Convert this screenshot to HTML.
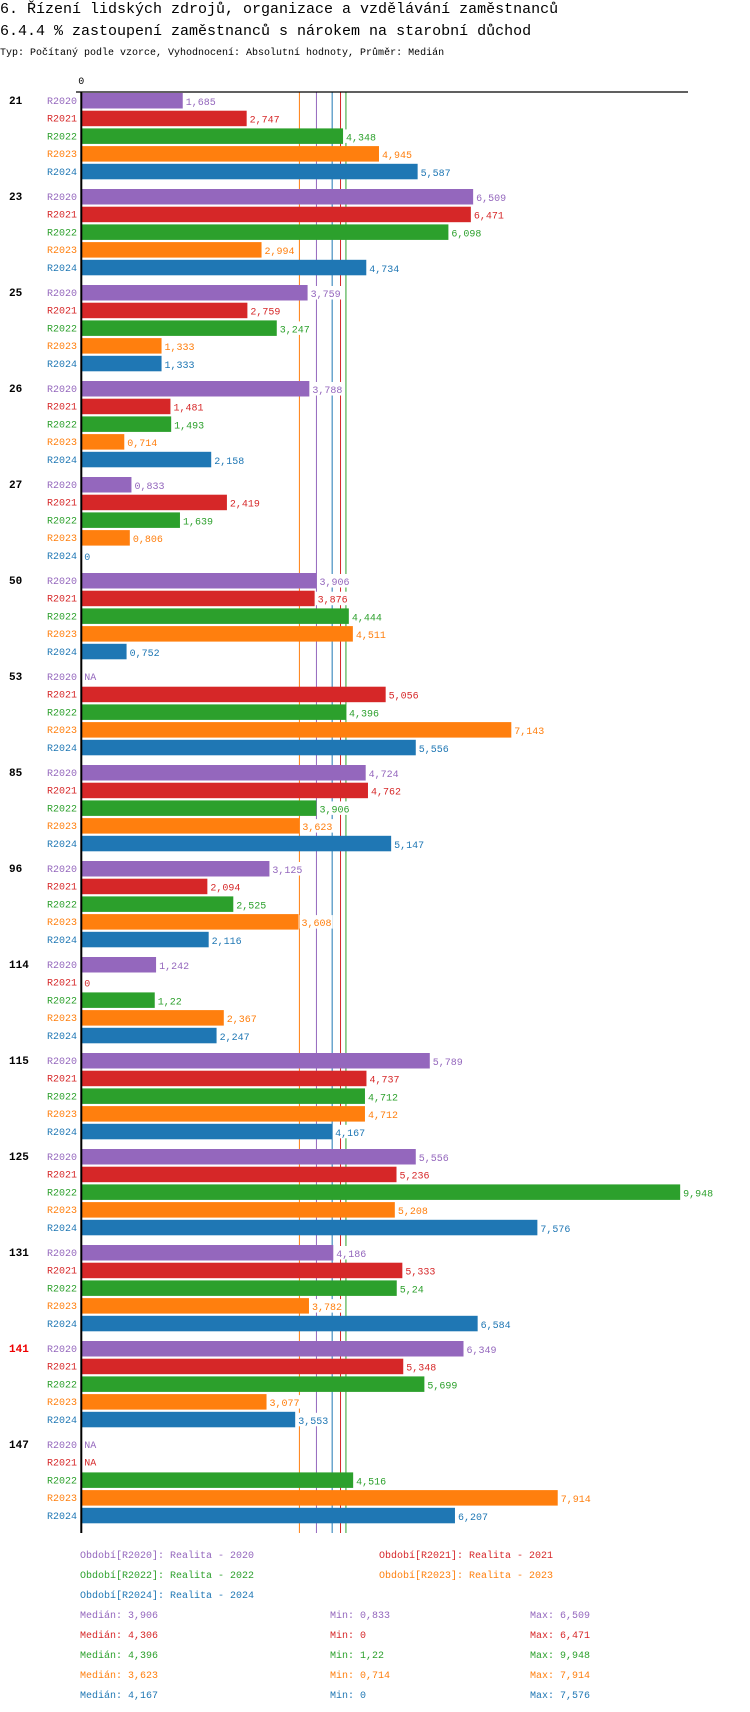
<!DOCTYPE html>
<html><head><meta charset="utf-8"><style>
body{margin:0;background:#fff;width:750px;height:1712px;overflow:hidden;font-family:"Liberation Mono",monospace;}
svg{display:block}
</style></head><body>
<svg id="c" width="750" height="1712" xmlns="http://www.w3.org/2000/svg">
<text x="0" y="13" font-size="15" font-family="Liberation Mono, monospace">6. Řízení lidských zdrojů, organizace a vzdělávání zaměstnanců</text>
<text x="0" y="35" font-size="15" font-family="Liberation Mono, monospace">6.4.4 % zastoupení zaměstnanců s nárokem na starobní důchod</text>
<text x="0" y="55" font-size="10" font-family="Liberation Mono, monospace">Typ: Počítaný podle vzorce, Vyhodnocení: Absolutní hodnoty, Průměr: Medián</text>
</svg>
<script>
const groups=["21","23","25","26","27","50","53","85","96","114","115","125","131","141","147"];
const seriesNames=["R2020","R2021","R2022","R2023","R2024"];
const s2020=[1.685,6.509,3.759,3.788,0.833,3.906,null,4.724,3.125,1.242,5.789,5.556,4.186,6.349,null];
const s2021=[2.747,6.471,2.759,1.481,2.419,3.876,5.056,4.762,2.094,0,4.737,5.236,5.333,5.348,null];
const s2022=[4.348,6.098,3.247,1.493,1.639,4.444,4.396,3.906,2.525,1.22,4.712,9.948,5.24,5.699,4.516];
const s2023=[4.945,2.994,1.333,0.714,0.806,4.511,7.143,3.623,3.608,2.367,4.712,5.208,3.782,3.077,7.914];
const s2024=[5.587,4.734,1.333,2.158,0,0.752,5.556,5.147,2.116,2.247,4.167,7.576,6.584,3.553,6.207];
const medians=[3.906,4.306,4.396,3.623,4.167];
const mins=[0.833,0,1.22,0.714,0];
const maxs=[6.509,6.471,9.948,7.914,7.576];
const colors=["#9467bd","#d62728","#2ca02c","#ff7f0e","#1f77b4"];
const all=[s2020,s2021,s2022,s2023,s2024];
const NS="http://www.w3.org/2000/svg";
const svg=document.getElementById('c');
const X0=81.3,UNIT=60.2,TOP=93,GP=96,RP=17.7,BH=15.5,AXB=1533;
const xs=v=>X0+v*UNIT;
const fmt=v=>String(v).replace('.',',');
function mk(t,a){const e=document.createElementNS(NS,t);for(const k in a)e.setAttribute(k,a[k]);svg.appendChild(e);return e;}
function txt(x,y,s,fill,size,anchor,bold){const e=mk('text',{x:x,y:y,fill:fill,'font-size':size,'font-family':'Liberation Mono, monospace','text-anchor':anchor||'start','font-weight':bold?'bold':'normal'});e.textContent=s;return e;}
let t=txt(X0,84,"0","#000",10,'middle');


medians.forEach((m,i)=>{
  const ml=mk('line',{x1:xs(m),y1:92,x2:xs(m),y2:AXB,stroke:colors[i],'stroke-width':1});
  
  
});
let l=mk('line',{x1:76,y1:92,x2:688,y2:92,stroke:'#000','stroke-width':1.2});


groups.forEach((g,gi)=>{
  const gy=TOP+gi*GP;
  const gl=txt(9,gy+11,g,g==="141"?"#e00":"#000",11,'start',true);
  
  
  all.forEach((s,si)=>{
    const y=gy+si*RP;
    const sl=txt(77,y+11,seriesNames[si],colors[si],10,'end');
    
    
    const v=s[gi];
    if(v===null){
      const na=txt(X0+3,y+11,"NA",colors[si],10);
      
      
      return;
    }
    const r=mk('rect',{x:X0,y:y,width:Math.max(0,xs(v)-X0),height:BH,fill:colors[si]});
    
    
    const bg=mk('rect',{x:xs(v)+1,y:y+1,width:fmt(v).length*6+3,height:BH-2,fill:'#fff'});
    
    
    const vl=txt(xs(v)+3,y+12,fmt(v),colors[si],10);
    
    
  });
});
let ax=mk('line',{x1:X0,y1:92,x2:X0,y2:AXB,stroke:'#000','stroke-width':2});


const legPos=[[80,1558],[379,1558],[80,1578],[379,1578],[80,1598]];
seriesNames.forEach((n,i)=>{
  const le=txt(legPos[i][0],legPos[i][1],"Období["+n+"]: Realita - "+n.slice(1),colors[i],10);
  
  
  const y=1618+i*20;
  const a=txt(80,y,"Medián: "+fmt(medians[i]),colors[i],10);
  
  
  const b=txt(330,y,"Min: "+fmt(mins[i]),colors[i],10);
  
  
  const c=txt(530,y,"Max: "+fmt(maxs[i]),colors[i],10);
  
  
});
</script>
</body></html>
